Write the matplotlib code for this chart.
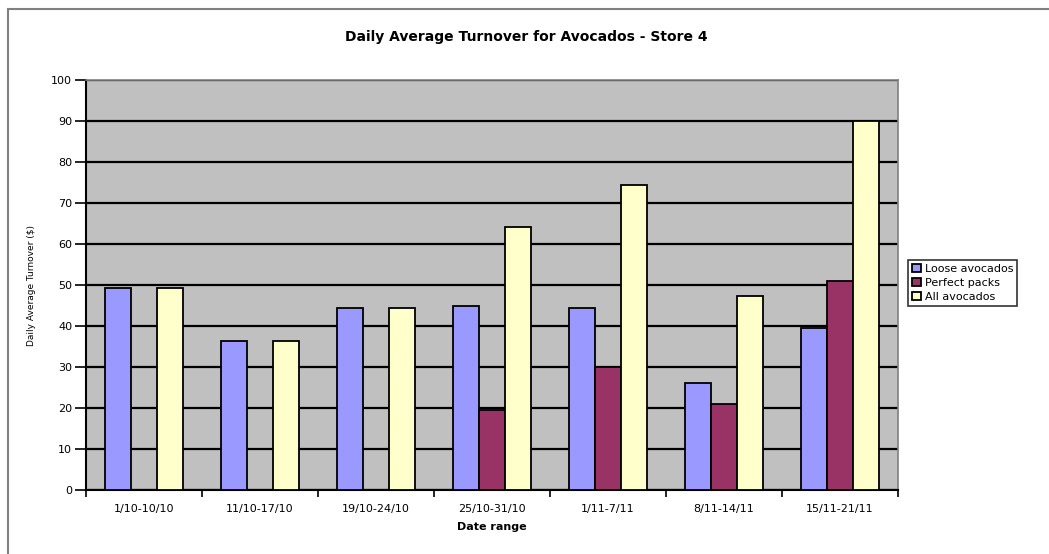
import matplotlib.pyplot as plt
import numpy as np
from matplotlib.patches import Rectangle

plt.rcParams['font.family'] = ['DejaVu Sans']

date_ranges = ['1/10-10/10', '11/10-17/10', '19/10-24/10', '25/10-31/10',
               '1/11-7/11', '8/11-14/11', '15/11-21/11']
loose = [49.3, 36.3, 44.5, 45.0, 44.5, 26.0, 39.6]
perfect = [0, 0, 0, 19.5, 30.0, 21.0, 51.0]
all_avo = [49.3, 36.3, 44.5, 64.2, 74.5, 47.2, 90.0]

series = [('Loose avocados', loose, '#9999FF'),
          ('Perfect packs', perfect, '#993366'),
          ('All avocados', all_avo, '#FFFFCC')]

fig = plt.figure(figsize=(10.49, 5.54), dpi=100)
ax = fig.add_axes([86 / 1049, 64 / 554, 812 / 1049, 410 / 554])
ax.set_facecolor('#C0C0C0')

# outer chart frame (only top/left visible in the original crop)
fig.patches.append(Rectangle((8 / 1049, -0.1), 1.2, (554 - 9) / 554 + 0.1,
                             transform=fig.transFigure, fill=False,
                             edgecolor='#808080', lw=1.5, zorder=0))

x = np.arange(len(date_ranges))
w = 1 / 4.5
for i, (name, vals, col) in enumerate(series):
    ax.bar(x + (i - 1) * w, vals, w, color=col, edgecolor='black', lw=1.3,
           label=name, zorder=3)

ax.set_xlim(-0.5, len(date_ranges) - 0.5)
ax.set_ylim(0, 100)
ax.set_yticks(range(0, 101, 10))
ax.yaxis.grid(True, color='black', lw=1.6, zorder=1)
ax.set_axisbelow(True)

ax.set_xticks(x)
ax.set_xticklabels(date_ranges, fontsize=8)
ax.set_xticks(np.arange(-0.5, len(date_ranges)), minor=True)
ax.tick_params(axis='x', which='major', length=0, pad=10)
ax.tick_params(axis='x', which='minor', length=5, width=1.2, direction='out')
ax.tick_params(axis='y', length=8, width=1.2, labelsize=8, pad=2)

for s in ['top', 'right']:
    ax.spines[s].set_color('#808080')
    ax.spines[s].set_linewidth(1.2)
for s in ['left', 'bottom']:
    ax.spines[s].set_color('black')
    ax.spines[s].set_linewidth(1.5)

fig.text(526 / 1049, 1 - 37 / 554, 'Daily Average Turnover for Avocados - Store 4',
         fontsize=10, fontweight='bold', ha='center', va='center')
ax.set_xlabel('Date range', fontsize=8, fontweight='bold', labelpad=6)
ax.set_ylabel('Daily Average Turnover ($)', fontsize=6.5, labelpad=11)

leg = ax.legend(loc='center left', bbox_to_anchor=(1.012, 0.505), fontsize=8,
                frameon=True, fancybox=False, edgecolor='black',
                handlelength=0.8, handleheight=0.8, handletextpad=0.4,
                borderpad=0.35, labelspacing=0.35, borderaxespad=0)
leg.get_frame().set_linewidth(1.2)

fig.savefig('out.png', dpi=100)
